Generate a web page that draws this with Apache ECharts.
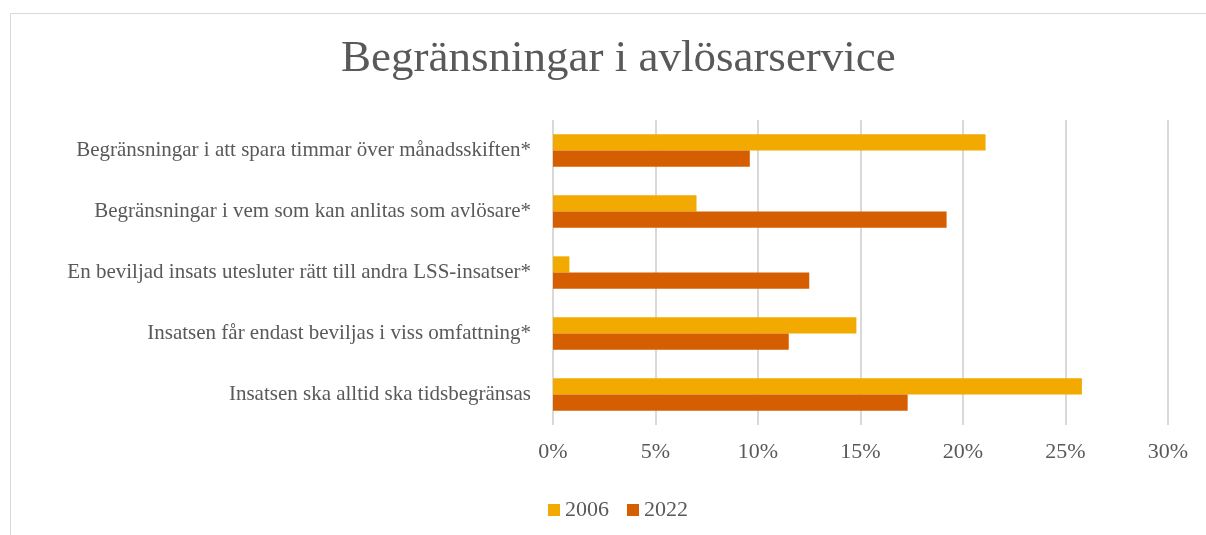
<!DOCTYPE html>
<html lang="sv">
<head>
    <meta charset="UTF-8">
    <title>Begränsningar i avlösarservice</title>
    <script src="https://cdn.jsdelivr.net/npm/echarts@6/dist/echarts.min.js"></script>
</head>
<body style="margin:0; background:#fff;">
<div id="main" style="width: 1206px; height: 535px;"></div>
<script>
    // kategorier uppifrån och ned
    var categories = [
        'Begränsningar i att spara timmar över månadsskiften*',
        'Begränsningar i vem som kan anlitas som avlösare*',
        'En beviljad insats utesluter rätt till andra LSS-insatser*',
        'Insatsen får endast beviljas i viss omfattning*',
        'Insatsen ska alltid ska tidsbegränsas'
    ];
    var values2006 = [21.1, 7.0, 0.8, 14.8, 25.8];
    var values2022 = [9.6, 19.2, 12.5, 11.5, 17.3];
    var xTicks = [0, 5, 10, 15, 20, 25, 30];

    var font = '"Liberation Serif", "DejaVu Serif", serif';
    var grey = '#595959';

    var myChart = echarts.init(document.getElementById('main'));
    var option = {
        animation: false,
        title: {
            text: 'Begränsningar i avlösarservice',
            left: 336,
            top: 32,
            textStyle: {fontFamily: font, fontSize: 45, fontWeight: 'normal', color: grey}
        },
        graphic: [{
            type: 'rect',
            shape: {x: 10.5, y: 13.5, width: 1300, height: 600},
            style: {fill: 'none', stroke: '#d9d9d9', lineWidth: 1},
            silent: true
        }],
        legend: {
            left: 543,
            top: 494,
            itemWidth: 12,
            itemHeight: 12,
            itemGap: 18,
            icon: 'rect',
            textStyle: {fontFamily: font, fontSize: 22, color: grey, padding: [0, 0, 0, 0]},
            data: ['2006', '2022']
        },
        grid: {
            left: 553,
            top: 120,
            width: 615,
            height: 305
        },
        xAxis: {
            type: 'value',
            min: xTicks[0],
            max: xTicks[xTicks.length - 1],
            interval: 5,
            axisLine: {show: false},
            axisTick: {show: false},
            splitLine: {lineStyle: {color: '#d9d9d9', width: 2}},
            axisLabel: {
                formatter: '{value}%',
                fontFamily: font,
                fontSize: 22,
                color: grey,
                margin: 16
            }
        },
        yAxis: {
            type: 'category',
            inverse: true,
            data: categories,
            axisLine: {show: false},
            axisTick: {show: false},
            axisLabel: {
                fontFamily: font,
                fontSize: 21,
                color: grey,
                margin: 22
            }
        },
        series: [
            {
                name: '2006',
                type: 'bar',
                barGap: '0%',
                barCategoryGap: '47%',
                itemStyle: {color: '#F2AA00'},
                data: values2006
            },
            {
                name: '2022',
                type: 'bar',
                barGap: '0%',
                barCategoryGap: '47%',
                itemStyle: {color: '#D55E00'},
                data: values2022
            }
        ]
    };
    myChart.setOption(option);
</script>
</body>
</html>
